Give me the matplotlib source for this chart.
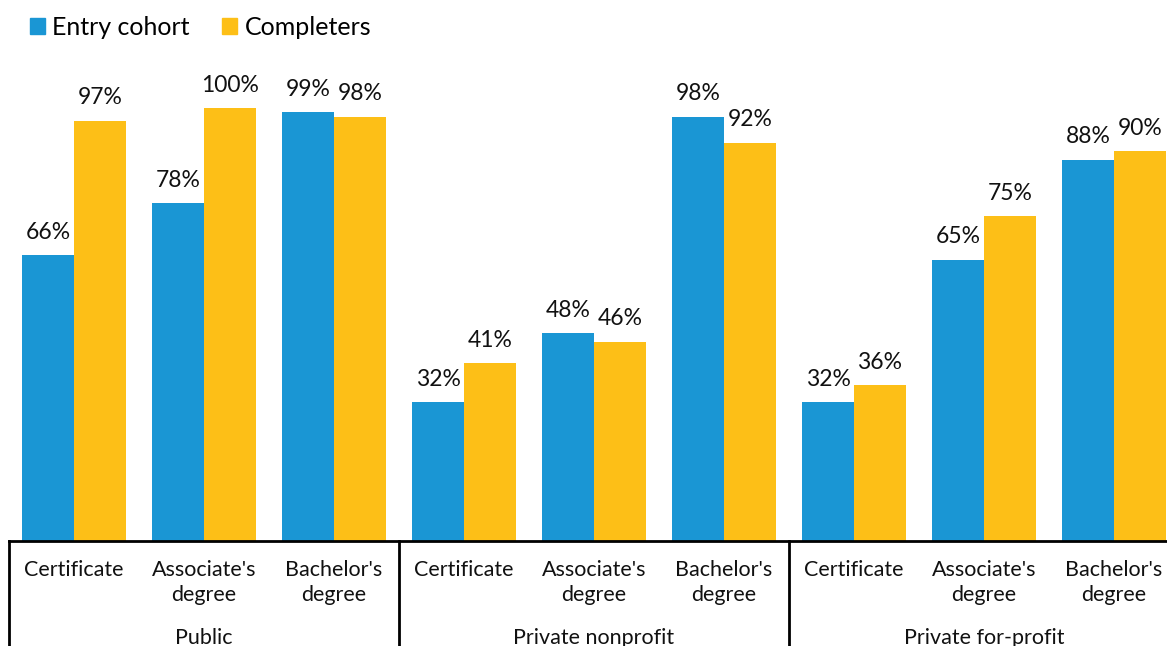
import numpy as np
import matplotlib
matplotlib.use('Agg')
import matplotlib.pyplot as plt
import matplotlib.transforms as mtransforms
from matplotlib.patches import Patch

plt.rcParams['font.family'] = ['Lato', 'DejaVu Sans']

# Data
degrees = ['Certificate', "Associate's\ndegree", "Bachelor's\ndegree"] * 3
sectors = ['Public', 'Private nonprofit', 'Private for-profit']
entry_cohort = [66, 78, 99, 32, 48, 98, 32, 65, 88]
completers = [97, 100, 98, 41, 46, 92, 36, 75, 90]

blue = '#1A96D4'
yellow = '#FDBF17'

fig = plt.figure(figsize=(11.67, 6.46), dpi=100)
W, H = 1167, 646
# axes: x from 9px to 1179px (runs a bit past the right edge), y baseline 541px, 100% at 108px
ax = fig.add_axes([9 / W, (H - 541) / H, 1170 / W, (541 - 108) / H])

x = np.arange(len(degrees))
w = 0.4
ax.bar(x - w / 2, entry_cohort, width=w, color=blue, label='Entry cohort')
ax.bar(x + w / 2, completers, width=w, color=yellow, label='Completers')

for xi, v in zip(x - w / 2, entry_cohort):
    ax.annotate(f'{v}%', (xi, v), xytext=(0, 9), textcoords='offset points',
                ha='center', va='bottom', fontsize=16.5, color='#111111')
for xi, v in zip(x + w / 2, completers):
    ax.annotate(f'{v}%', (xi, v), xytext=(0, 9), textcoords='offset points',
                ha='center', va='bottom', fontsize=16.5, color='#111111')

ax.set_xlim(-0.5, len(degrees) - 0.5)
ax.set_ylim(0, 100)
for s in ax.spines.values():
    s.set_visible(False)
ax.set_xticks([])
ax.set_yticks([])

# baseline
ax.axhline(0, color='black', linewidth=2, clip_on=False, zorder=5)

trans = mtransforms.blended_transform_factory(ax.transData, ax.transAxes)
# group separators
for sx in [-0.5, 2.5, 5.5]:
    ax.plot([sx, sx], [0, -0.3], color='black', linewidth=2,
            transform=trans, clip_on=False)

# category labels
for xi, lab in zip(x, degrees):
    ax.annotate(lab, (xi, 0), xycoords=trans, xytext=(0, -14),
                textcoords='offset points', ha='center', va='top',
                fontsize=15.5, color='#111111', linespacing=1.27)

# sector labels
for i, sec in enumerate(sectors):
    ax.annotate(sec, (3 * i + 1, 0), xycoords=trans, xytext=(0, -70),
                textcoords='offset points', ha='center', va='center',
                fontsize=15.5, color='#111111')

handles = [Patch(color=blue), Patch(color=yellow)]
fig.legend(handles, ['Entry cohort', 'Completers'], loc='upper left',
           bbox_to_anchor=(12 / W, 1.003), ncol=2, frameon=False,
           fontsize=18, handlelength=0.6, handleheight=0.6,
           handletextpad=0.3, columnspacing=1.3, borderaxespad=0.3)

fig.savefig('out.png', dpi=100)
